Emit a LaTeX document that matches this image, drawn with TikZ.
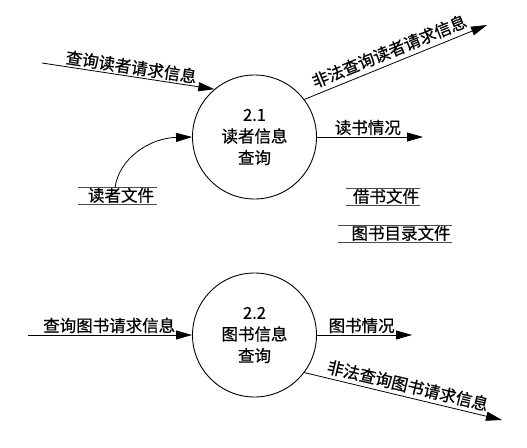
\documentclass[tikz,border=0pt]{standalone}
\usepackage{fontspec}
\setmainfont[FakeBold=0.6]{Noto Sans CJK SC}
\usetikzlibrary{arrows.meta}
\begin{document}
\begin{tikzpicture}[x=1pt,y=-1pt,
  proc/.style={circle, draw, line width=0.9pt, minimum size=124pt, inner sep=0pt, align=center, font=\fontsize{16.5}{21.5}\selectfont},
  flow/.style={line width=0.8pt, -{Triangle[length=16pt,width=9pt]}},
  lbl/.style={font=\fontsize{16.5}{20}\selectfont, inner sep=1.5pt},
  store/.style={font=\fontsize{16.5}{20}\selectfont, inner xsep=0pt, inner ysep=0pt, text height=13.5pt, text depth=2.5pt},
  storeline/.style={draw=black!70, line width=1.3pt}]
\useasboundingbox[fill=white] (0,0) rectangle (527,447);

% processes
\node[proc] (c1) at (254.5,137) {2.1\\读者信息\\查询};
\node[proc] (c2) at (254.5,335) {2.2\\图书信息\\查询};

% data stores
\node[store] (s1) at (121,196) {读者文件};
\node[store] (s2) at (386,197) {借书文件};
\node[store] (s3) at (401,234) {图书目录文件};
\foreach \s/\l/\r in {s1/10/3, s2/7/1, s3/13/1.5}{
  \draw[storeline] ([xshift=-\l pt]\s.north west) -- ([xshift=\r pt]\s.north east);
  \draw[storeline] ([xshift=-\l pt]\s.south west) -- ([xshift=\r pt]\s.south east);
}

% free ends
\coordinate (a1) at (42,63);
\coordinate (b1) at (487,25);
\coordinate (r1) at (423,137);
\coordinate (a2) at (28,335);
\coordinate (r2) at (412,335);
\coordinate (b2) at (502,420);
\coordinate (k1) at (119,158);
\coordinate (k2) at (150,138);

% flows of 2.1
\draw[flow] (a1) -- (c1.130) node[lbl, pos=0.51, sloped, above] {查询读者请求信息};
\draw[flow] (c1.37) -- (b1) node[lbl, pos=0.49, sloped, above=3pt] {非法查询读者请求信息};
\draw[flow] (c1.east) -- (r1) node[lbl, pos=0.48, above] {读书情况};
\draw[flow] ([xshift=-6pt]s1.north) .. controls (k1) and (k2) .. (c1.west);

% flows of 2.2
\draw[flow] (a2) -- (c2.west) node[lbl, pos=0.495, above] {查询图书请求信息};
\draw[flow] (c2.east) -- (r2) node[lbl, pos=0.47, above] {图书情况};
\draw[flow] (c2.-37) -- (b2) node[lbl, pos=0.51, sloped, above=2pt] {非法查询图书请求信息};
\end{tikzpicture}
\end{document}
